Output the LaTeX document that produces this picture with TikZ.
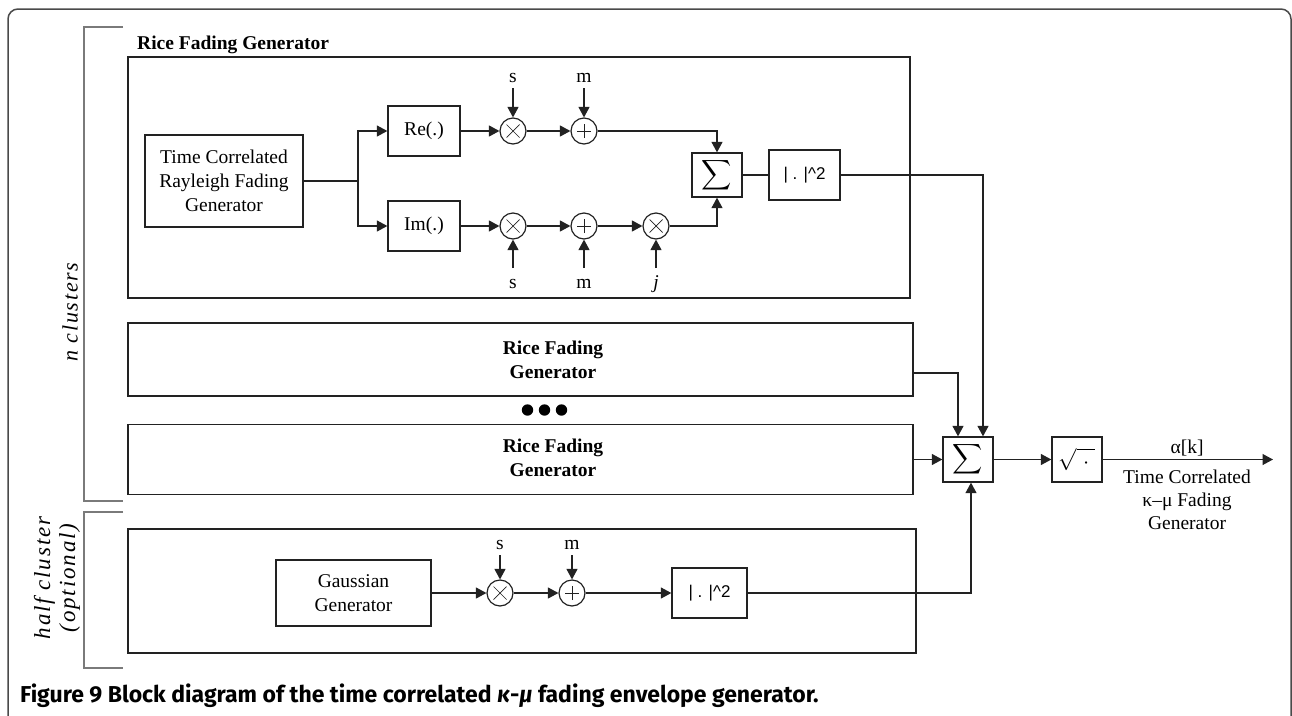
\documentclass[tikz,border=0pt]{standalone}
\usepackage{fontspec}
\usepackage{unicode-math}
\setmainfont{Liberation Serif}
\setmathfont{Latin Modern Math}
\newfontfamily\capfont{Fira Sans}
\newfontfamily\sqfont{Liberation Sans}
\usetikzlibrary{arrows.meta}
\definecolor{linec}{HTML}{222222}
\definecolor{brk}{HTML}{7A7A7A}
\definecolor{frm}{HTML}{4A4A4A}
\newcommand\dfs{\fontsize{19.5}{24}\selectfont}
\newcommand\sqtxt{{\sqfont\fontsize{17}{20}\selectfont | . |\textasciicircum2}}
\tikzset{
  blk/.style={draw=linec, line width=1.3pt, inner sep=0pt, font=\dfs, align=center, text=black},
  cont/.style={draw=linec, line width=1.3pt, inner sep=0pt},
  arr/.style={draw=linec, line width=1.2pt, -{Triangle[length=10.5pt,width=11pt]}},
  ln/.style={draw=linec, line width=1.2pt},
  lab/.style={font=\dfs, inner sep=0pt},
  opcirc/.style={circle, draw=linec, line width=1.2pt, minimum size=26pt, inner sep=0pt},
  mulc/.style={opcirc, path picture={
      \draw[line width=0.7pt] ([shift={(-6.5pt,-6.5pt)}]path picture bounding box.center) -- ([shift={(6.5pt,6.5pt)}]path picture bounding box.center);
      \draw[line width=0.7pt] ([shift={(-6.5pt,6.5pt)}]path picture bounding box.center) -- ([shift={(6.5pt,-6.5pt)}]path picture bounding box.center);}},
  addc/.style={opcirc, path picture={
      \draw[line width=0.7pt] ([shift={(-7pt,0pt)}]path picture bounding box.center) -- ([shift={(7pt,0pt)}]path picture bounding box.center);
      \draw[line width=0.7pt] ([shift={(0pt,-7pt)}]path picture bounding box.center) -- ([shift={(0pt,7pt)}]path picture bounding box.center);}},
  brack/.style={draw=brk, line width=1.5pt},
}
\begin{document}
\begin{tikzpicture}[x=1pt,y=-1pt]
\useasboundingbox (0,0) rectangle (1292,715);
% outer frame
\draw[frm, line width=1.5pt, rounded corners=10pt] (8,740) -- (8,9) -- (1291,9) -- (1291,740);
% brackets
\draw[brack] (123,27) -- (84,27) -- (84,501) -- (123,501);
\draw[brack] (123,512) -- (84,512) -- (84,668) -- (123,668);
\node[rotate=90, inner sep=0pt, font=\fontsize{22}{26}\selectfont\itshape\addfontfeature{LetterSpace=8}] (ncl) at (70,312) {n clusters};
\node[rotate=90, inner sep=0pt, align=center, font=\fontsize{23}{25}\selectfont\itshape\addfontfeature{LetterSpace=8}] (hcl) at (57,578) {half cluster\\(optional)};

% Rice fading generator (detailed)
\node[anchor=base west, inner sep=0pt, font=\dfs\bfseries] (ricetitle) at (137,49) {Rice Fading Generator};
\node[cont, minimum width=782pt, minimum height=241pt] (rice1) at (519,177.5) {};
\node[blk, minimum width=158pt, minimum height=92pt] (tc) at (224,181) {Time Correlated\\Rayleigh Fading\\Generator};
\coordinate (split) at (358,181);
\node[blk, minimum width=72pt, minimum height=50pt] (re) at (424,131) {Re(.)};
\node[blk, minimum width=72pt, minimum height=50pt] (im) at (424,226) {Im(.)};
\node[mulc] (mul1) at (513,131) {};
\node[addc] (add1) at (584,131) {};
\node[mulc] (mul2) at (513,226) {};
\node[addc] (add2) at (584,226) {};
\node[mulc] (mulj) at (656,226) {};
\node[lab, anchor=base] (s1) at (513,82) {s};
\node[lab, anchor=base] (m1) at (584,82) {m};
\node[lab, anchor=base] (s2) at (513,288) {s};
\node[lab, anchor=base] (m2) at (584,288) {m};
\node[lab, anchor=base] (jl) at (656,288) {\textit{j}};
\coordinate (s1in) at (513,88);
\coordinate (m1in) at (584,88);
\coordinate (s2in) at (513,268);
\coordinate (m2in) at (584,268);
\coordinate (jin) at (656,268);
\node[blk, minimum width=50pt, minimum height=44pt] (sig1) at (717,175) {\fontsize{21}{24}\selectfont$\displaystyle\sum$};
\node[blk, minimum width=71pt, minimum height=50pt] (sq1) at (804.5,175) {\sqtxt};

\draw[ln] (tc.east) -- (split);
\draw[arr] (split) |- (re.west);
\draw[arr] (split) |- (im.west);
\draw[arr] (re) -- (mul1);
\draw[arr] (mul1) -- (add1);
\draw[arr] (im) -- (mul2);
\draw[arr] (mul2) -- (add2);
\draw[arr] (add2) -- (mulj);
\draw[arr] (s1in) -- (mul1);
\draw[arr] (m1in) -- (add1);
\draw[arr] (s2in) -- (mul2);
\draw[arr] (m2in) -- (add2);
\draw[arr] (jin) -- (mulj);
\draw[arr] (add1.east) -| (sig1.north);
\draw[arr] (mulj.east) -| (sig1.south);
\draw[ln] (sig1.east) -- (sq1.west);

% other Rice generators
\node[cont, minimum width=785pt, minimum height=73pt] (rice2) at (520.5,359.5) {};
\node[lab, font=\dfs\bfseries, align=center] (rice2t) at (553,360) {Rice Fading\\Generator};
\fill[black] (527.5,410) circle (5.7pt) (544.5,410) circle (5.7pt) (561.5,410) circle (5.7pt);
\node[cont, minimum width=785pt, minimum height=70pt] (rice3) at (520.5,459.5) {};
\node[lab, font=\dfs\bfseries, align=center] (rice3t) at (553,458) {Rice Fading\\Generator};

% Gaussian half cluster
\node[cont, minimum width=788pt, minimum height=124pt] (gcont) at (522,591) {};
\node[blk, minimum width=155pt, minimum height=66pt] (gauss) at (353.5,593) {Gaussian\\Generator};
\node[mulc] (mul3) at (500,593) {};
\node[addc] (add3) at (572,593) {};
\node[lab, anchor=base] (s3) at (500,549) {s};
\node[lab, anchor=base] (m3) at (572,549) {m};
\coordinate (s3in) at (500,555);
\coordinate (m3in) at (572,555);
\node[blk, minimum width=75pt, minimum height=50pt] (sq2) at (709.5,593) {\sqtxt};
\draw[arr] (gauss) -- (mul3);
\draw[arr] (mul3) -- (add3);
\draw[arr] (add3) -- (sq2);
\draw[arr] (s3in) -- (mul3);
\draw[arr] (m3in) -- (add3);

% final combiner
\node[blk, minimum width=50pt, minimum height=45pt] (bigsum) at (968,459.5) {\fontsize{21}{24}\selectfont$\displaystyle\sum$};
\node[blk, minimum width=50pt, minimum height=45pt] (sqrt) at (1077,459.5) {\fontsize{22}{24}\selectfont$\sqrt{\vphantom{X}\;\cdot\;}$};
\coordinate (out) at (1273,459.5);
\draw[arr] (sq1.east) -| ([xshift=15pt]bigsum.north);
\draw[arr] ([yshift=-13.5pt]rice2.east) -| ([xshift=-10pt]bigsum.north);
\draw[arr] (rice3.east) -- (bigsum.west);
\draw[arr] (sq2.east) -| ([xshift=3pt]bigsum.south);
\draw[arr] (bigsum) -- (sqrt);
\draw[arr] (sqrt.east) -- (out);
\node[lab, anchor=base] (alk) at (1187,453) {α[k]};
\node[lab, align=center, font=\fontsize{19.5}{23}\selectfont] (outlab) at (1187,500) {Time Correlated\\κ–μ Fading\\Generator};

% caption
\node[anchor=base west, inner sep=0pt, font=\capfont\bfseries\fontsize{23}{26}\selectfont] (cap) at (20,702) {Figure 9 Block diagram of the time correlated \textit{κ}-\textit{μ} fading envelope generator.};
\end{tikzpicture}
\end{document}
